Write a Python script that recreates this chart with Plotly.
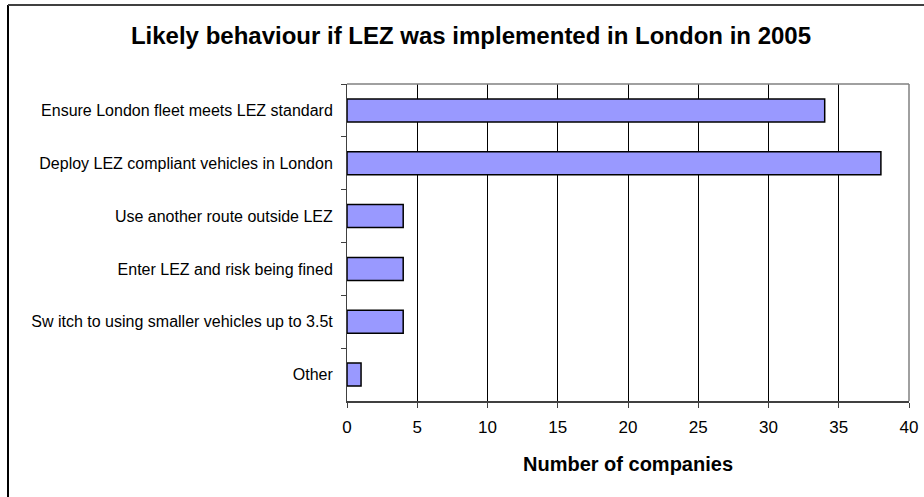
import plotly.graph_objects as go

categories = [
    "Ensure London fleet meets LEZ standard",
    "Deploy LEZ compliant vehicles in London",
    "Use another route outside LEZ",
    "Enter LEZ and risk being fined",
    "Sw itch to using smaller vehicles up to 3.5t",
    "Other",
]
values = [34, 38, 4, 4, 4, 1]
x_ticks = [0, 5, 10, 15, 20, 25, 30, 35, 40]

W, H = 924, 497
L, R, T, B = 347, 15, 84, 96
FONT = "Arial, Liberation Sans, sans-serif"

fig = go.Figure()
fig.add_trace(go.Bar(
    x=values,
    y=categories,
    orientation="h",
    marker=dict(color="#9999FF", line=dict(color="#000000", width=1.5)),
    showlegend=False,
))

pw = W - L - R
ph = H - T - B
px2paper = lambda p: (p - L) / pw
py2paper = lambda p: 1 - (p - T) / ph

fig.update_layout(
    width=W, height=H,
    margin=dict(l=L, r=R, t=T, b=B, autoexpand=False),
    paper_bgcolor="white",
    plot_bgcolor="white",
    bargap=0.565,
    font=dict(family=FONT, color="black"),
    title=dict(
        text="<b>Likely behaviour if LEZ was implemented in London in 2005</b>",
        x=471 / W, xref="container", xanchor="center",
        y=1 - 36 / H, yref="container", yanchor="middle",
        font=dict(size=24, family=FONT, color="black"),
    ),
    xaxis=dict(
        range=[0, 40],
        tickvals=x_ticks,
        ticktext=[str(v) for v in x_ticks],
        showgrid=True, gridcolor="black", gridwidth=1,
        showline=True, linecolor="#404040", linewidth=2,
        ticks="outside", ticklen=5, tickcolor="#404040", tickwidth=1,
        tickfont=dict(size=17, family=FONT, color="black"),
        ticklabelstandoff=5,
        title=dict(text="<b>Number of companies</b>",
                   font=dict(size=20, family=FONT, color="black"),
                   standoff=21),
        zeroline=False,
        automargin=False,
        fixedrange=True,
    ),
    yaxis=dict(
        autorange="reversed",
        type="category",
        showgrid=False,
        showline=True, linecolor="#404040", linewidth=1,
        ticks="outside", ticklen=5, tickcolor="#404040", tickson="boundaries",
        tickfont=dict(size=16, family=FONT, color="black"),
        ticklabelstandoff=10,
        automargin=False,
        fixedrange=True,
    ),
    shapes=[
        # plot area frame (top and right edges in gray)
        dict(type="line", xref="paper", yref="paper", x0=0, x1=1, y0=1, y1=1,
             line=dict(color="#808080", width=1.5)),
        dict(type="line", xref="paper", yref="paper", x0=1, x1=1, y0=0, y1=1,
             line=dict(color="#808080", width=1.5)),
        # outer chart border (left and top)
        dict(type="line", xref="paper", yref="paper",
             x0=px2paper(8), x1=px2paper(8), y0=py2paper(5), y1=py2paper(H + 5),
             line=dict(color="black", width=2)),
        dict(type="line", xref="paper", yref="paper",
             x0=px2paper(8), x1=px2paper(W + 5), y0=py2paper(5), y1=py2paper(5),
             line=dict(color="#404040", width=2)),
    ],
)

fig.write_html(
    "out.html",
    config={"displayModeBar": False},
    post_script="document.body.style.margin='0';document.body.style.overflow='hidden';",
)
